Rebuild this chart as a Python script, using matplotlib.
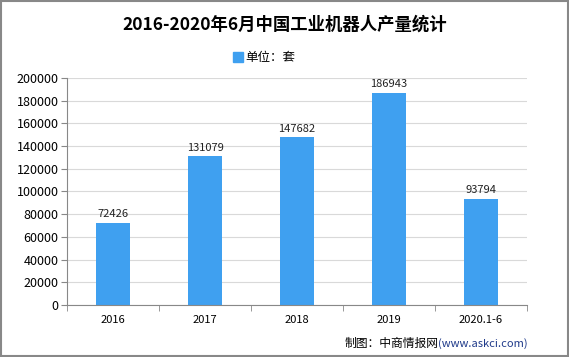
import matplotlib.pyplot as plt
import numpy as np

plt.rcParams['font.family'] = ['Noto Sans CJK SC', 'DejaVu Sans']

years = ['2016', '2017', '2018', '2019', '2020.1-6']
output = [72426, 131079, 147682, 186943, 93794]

fig = plt.figure(figsize=(5.69, 3.57), dpi=100)
ax = fig.add_axes([0.1178, 0.1457, 0.8084, 0.6358])

x = np.arange(len(years))
ax.bar(x, output, width=0.37, color='#3fa0f0', zorder=2)
for xi, v in zip(x, output):
    ax.text(xi, v + 3000, str(v), ha='center', va='bottom', fontsize=8, color='#222222')

ax.set_xlim(-0.5, len(years) - 0.5)
ax.set_ylim(0, 200000)
ax.set_yticks(np.arange(0, 200001, 20000))
ax.tick_params(axis='y', labelsize=9, length=4, color='#888888', pad=2)
ax.set_xticks(x)
ax.set_xticklabels(years)
ax.set_xticks(np.arange(-0.5, len(years)), minor=True)
ax.tick_params(axis='x', which='major', length=0, labelsize=8, pad=7)
ax.tick_params(axis='x', which='minor', length=4, color='#888888')
ax.grid(axis='y', color='#d9d9d9', linewidth=0.8, zorder=0)
for s in ['top', 'right']:
    ax.spines[s].set_visible(False)
for s in ['left', 'bottom']:
    ax.spines[s].set_color('#888888')

# title and legend
fig.text(0.5, 0.93, '2016-2020年6月中国工业机器人产量统计', ha='center', va='center',
         fontsize=12.5, fontweight='bold')
fig.patches.append(plt.Rectangle((0.4095, 0.825), 0.0175, 0.028, transform=fig.transFigure,
                                 color='#3fa0f0'))
fig.text(0.431, 0.839, '单位：套', ha='left', va='center', fontsize=9)

# source footer
url = fig.text(0.928, 0.038, '(www.askci.com)', ha='right', va='center', fontsize=8,
               color='#1f3a8a')
ax.annotate('制图：中商情报网', xy=(0, 0.5), xycoords=url, ha='right', va='center',
            fontsize=8.5, annotation_clip=False)

fig.patches.append(plt.Rectangle((0.001, 0.002), 0.997, 0.995, transform=fig.transFigure,
                                 fill=False, edgecolor='#888888', linewidth=1.5))

fig.savefig('out.png', dpi=100)
